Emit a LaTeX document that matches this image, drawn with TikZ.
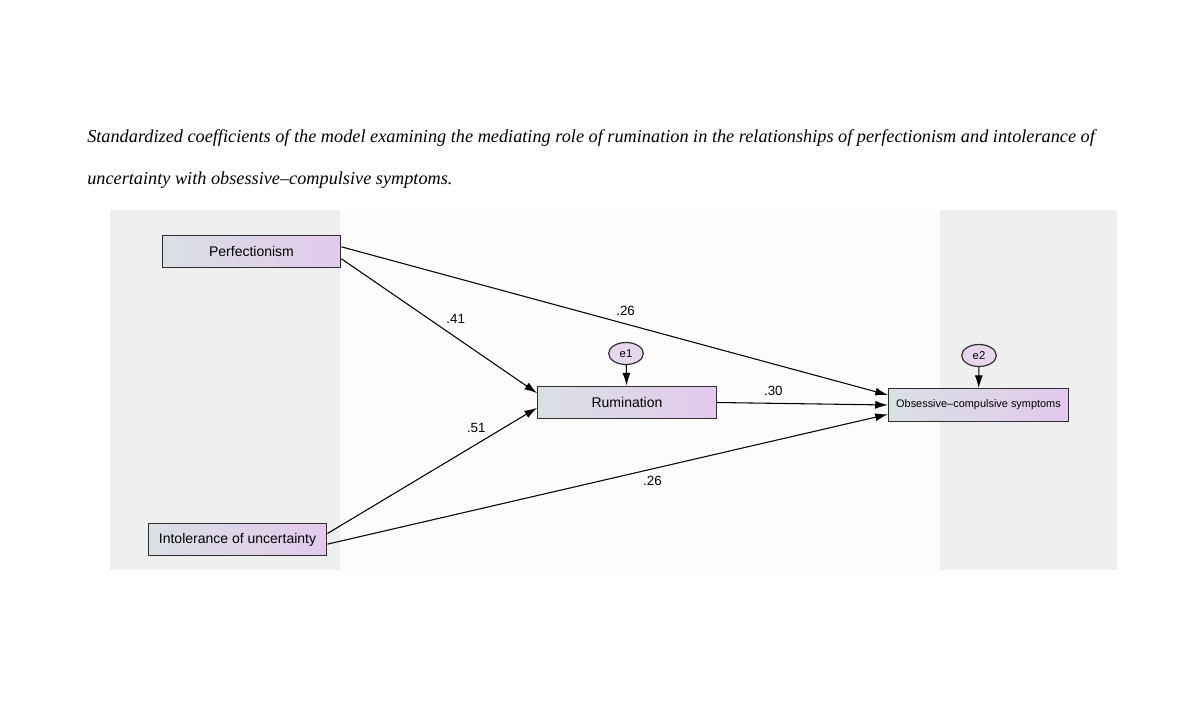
\documentclass[tikz,border=0pt]{standalone}
\usepackage{fontspec}
\setmainfont{Liberation Serif}
\newfontfamily\labfont{Liberation Sans}
\usepackage{tikz}
\usetikzlibrary{arrows.meta}
\usetikzlibrary{shapes}

\definecolor{bandgray}{HTML}{EFEFEF}
\definecolor{midgray}{HTML}{FCFCFC}
\definecolor{boxleft}{HTML}{D9E0E4}
\definecolor{boxright}{HTML}{E3C9EC}
\definecolor{errfill}{HTML}{E6D6EE}
\definecolor{edge}{HTML}{2E2E2E}

\tikzset{
	var/.style={draw=edge,line width=0.9pt,left color=boxleft,right color=boxright,
		minimum width=134pt,minimum height=24.5pt,inner sep=0pt,font=\labfont\fontsize{10.5}{12}\selectfont},
	err/.style={draw=edge,line width=0.9pt,ellipse,fill=errfill,minimum width=26pt,minimum height=16.5pt,
		inner sep=0pt,font=\labfont\fontsize{8.5}{10}\selectfont},
	path/.style={line width=0.8pt,-{Latex[length=9.5pt,width=6pt]}},
	coef/.style={font=\labfont\fontsize{10}{12}\selectfont,inner sep=1pt},
}

\begin{document}
\begin{tikzpicture}[x=0.75pt,y=-0.75pt]
	\useasboundingbox[fill=white] (0,0) rectangle (1181,723);
	\node[anchor=base west,inner sep=0pt,font=\itshape\fontsize{13.7}{15}\selectfont] (cap1) at (87,143)
		{Standardized coefficients of the model examining the mediating role of rumination in the relationships of perfectionism and intolerance of};
	\node[anchor=base west,inner sep=0pt,font=\itshape\fontsize{13.7}{15}\selectfont] (cap2) at (87,185)
		{uncertainty with obsessive--compulsive symptoms.};
	\fill[bandgray] (110,210) rectangle (1117,570);
	\fill[midgray] (340,210) rectangle (940,570);

	\node[var] (perf) at (251.5,251.5) {Perfectionism};
	\node[var] (intol) at (237.5,539.5) {Intolerance of uncertainty};
	\node[var] (rum) at (627,402.5) {Rumination};
	\node[var,minimum width=135pt,font=\labfont\fontsize{8.2}{10}\selectfont] (ocs) at (978.5,405) {Obsessive\textendash compulsive symptoms};
	\node[err] (e1) at (626,353.5) {e1};
	\node[err] (e2) at (979,355.5) {e2};

	\draw[path] ([yshift=3.5pt]perf.east) -- node[coef,pos=.52,above=5pt]{.26} ([yshift=7.5pt]ocs.west);
	\draw[path] ([yshift=-5.5pt]perf.east) -- node[coef,pos=.5,right=4pt,yshift=5pt]{.41} ([yshift=7pt]rum.west);
	\draw[path] ([yshift=4.5pt]intol.east) -- node[coef,pos=.71,above=7pt]{.51} ([yshift=-4pt]rum.west);
	\draw[path] ([yshift=-3.5pt]intol.east) -- node[coef,pos=.58,below=4pt]{.26} ([yshift=-7pt]ocs.west);
	\draw[path] (rum.east) -- node[coef,pos=.33,above=4pt]{.30} (ocs.west);
	\draw[path] (e1) -- (rum);
	\draw[path] (e2) -- (ocs);
\end{tikzpicture}
\end{document}
